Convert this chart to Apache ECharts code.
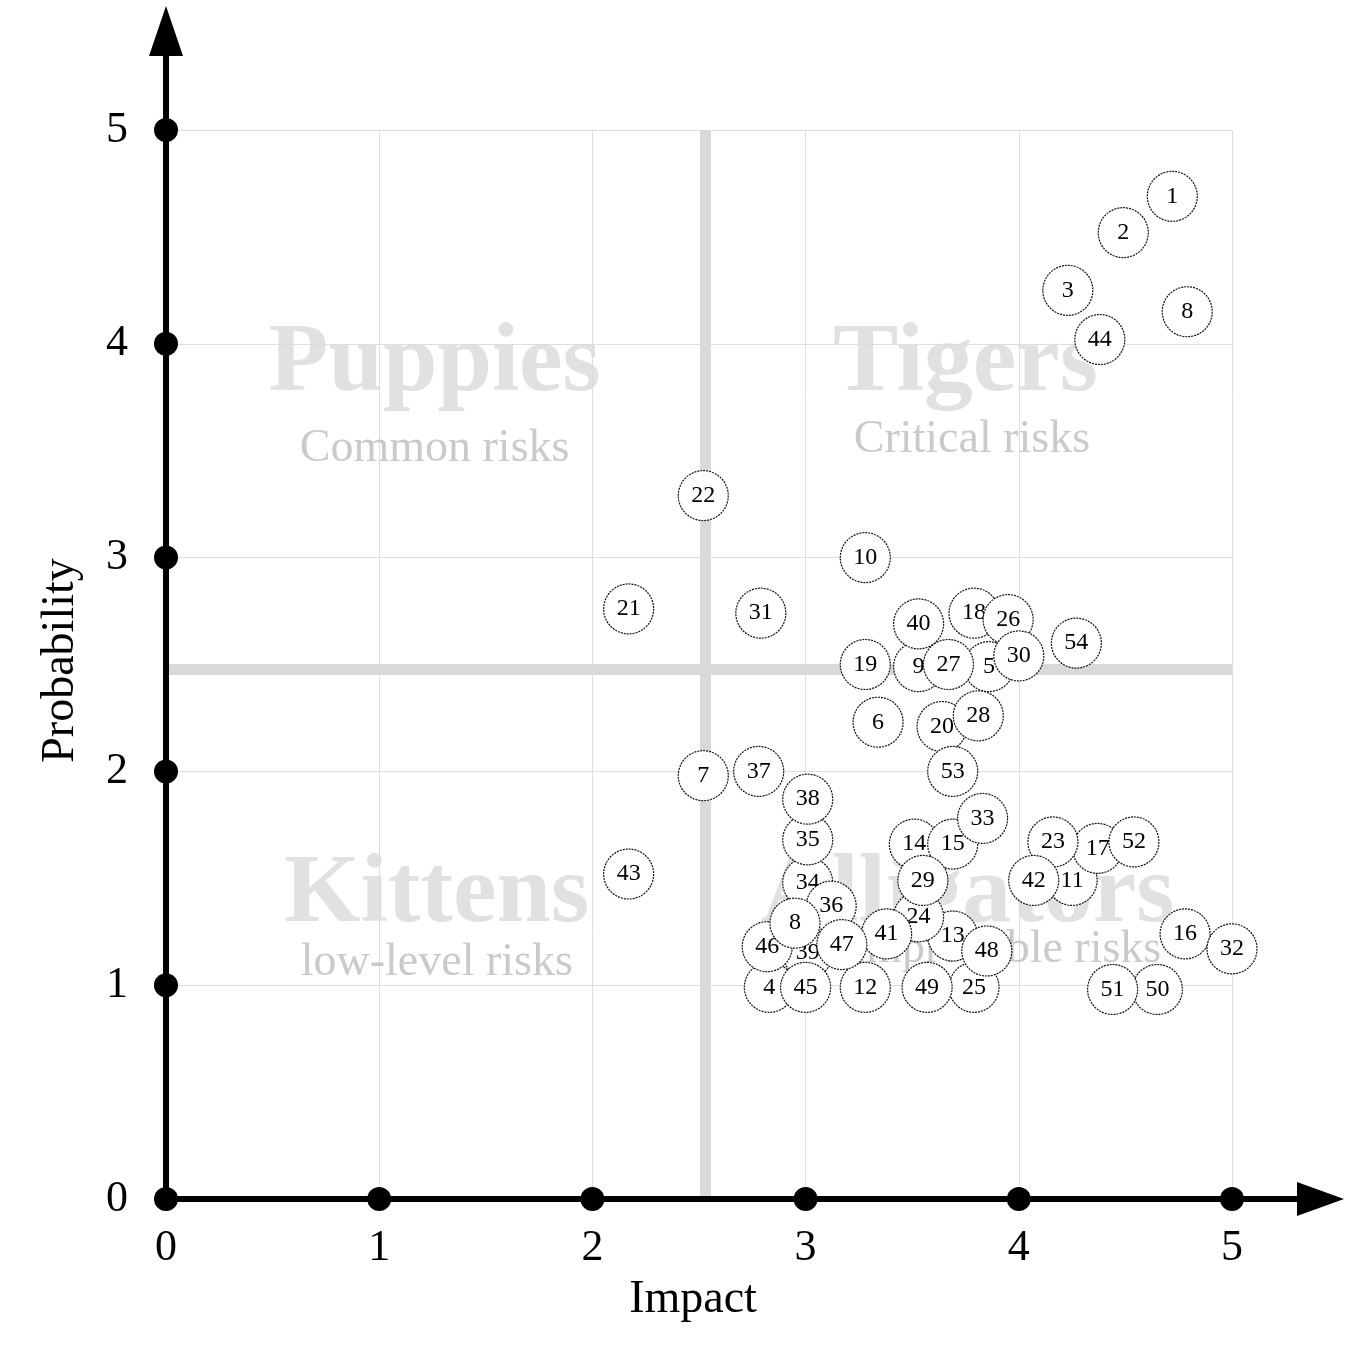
<!DOCTYPE html>
<html>
<head>
<meta charset="utf-8">
<title>Risk matrix</title>
<script src="https://cdn.jsdelivr.net/npm/echarts@6/dist/echarts.min.js"></script>
<style>
  html, body { margin: 0; padding: 0; background: #fff; }
  #chart { width: 1345px; height: 1353px; }
</style>
</head>
<body>
<div id="chart"></div>
<script>
// risk id, impact (x), probability (y) -- the second "8" sits on top of its neighbours, so it goes last
const riskIds = ['1', '2', '3', '4', '5', '6', '7', '8', '9', '10',
  '11', '12', '13', '14', '15', '16', '17', '18', '19', '20',
  '21', '22', '23', '24', '25', '26', '27', '28', '29', '30',
  '31', '32', '33', '34', '35', '36', '37', '38', '39', '40',
  '41', '42', '43', '44', '45', '46', '47', '48', '49', '50',
  '51', '52', '53', '54', '8'];
const impact = [4.72, 4.49, 4.23, 2.83, 3.86, 3.34, 2.52, 4.79, 3.53, 3.28,
  4.25, 3.28, 3.69, 3.51, 3.69, 4.78, 4.37, 3.79, 3.28, 3.64,
  2.17, 2.52, 4.16, 3.53, 3.79, 3.95, 3.67, 3.81, 3.55, 4.00,
  2.79, 5.00, 3.83, 3.01, 3.01, 3.12, 2.78, 3.01, 3.01, 3.53,
  3.38, 4.07, 2.17, 4.38, 3.00, 2.82, 3.17, 3.85, 3.57, 4.65,
  4.44, 4.54, 3.69, 4.27, 2.95];
const probability = [4.69, 4.52, 4.25, 0.99, 2.49, 2.23, 1.98, 4.15, 2.49, 3.00,
  1.49, 0.99, 1.23, 1.66, 1.66, 1.24, 1.64, 2.74, 2.50, 2.21,
  2.76, 3.29, 1.67, 1.32, 0.99, 2.71, 2.50, 2.26, 1.49, 2.54,
  2.74, 1.17, 1.78, 1.48, 1.68, 1.37, 2.00, 1.87, 1.15, 2.69,
  1.24, 1.49, 1.52, 4.02, 0.99, 1.18, 1.19, 1.16, 0.99, 0.98,
  0.98, 1.67, 2.00, 2.60, 1.29];

const axisTicks = [0, 1, 2, 3, 4, 5];
// the two thick quadrant dividers
const impactSplit = 2.53;
const probabilitySplit = 2.48;

const quadrantTitles = ['Puppies', 'Tigers', 'Kittens', 'Alligators'];
const quadrantNotes = ['Common risks', 'Critical risks', 'low-level risks', 'Improbable risks'];

// where the quadrant texts sit, in axis units
const titleAnchors = [[1.26, 3.9], [3.75, 3.9], [1.27, 1.42], [3.76, 1.42]];
const noteAnchors = [[1.26, 3.51], [3.78, 3.55], [1.27, 1.105], [3.94, 1.165]];

const serif = '"Liberation Serif", "Times New Roman", serif';

const chart = echarts.init(document.getElementById('chart'));

const bubbleSeries = riskIds.map(function (id, i) {
  return {
    type: 'scatter',
    z: 10 + i,
    clip: false,
    silent: true,
    symbolSize: 50,
    itemStyle: {
      color: '#fff',
      borderColor: '#111',
      borderWidth: 1.2,
      borderType: [2, 1],
      opacity: 1
    },
    label: {
      show: true,
      position: 'inside',
      formatter: id,
      color: '#000',
      fontFamily: serif,
      fontSize: 24
    },
    data: [[impact[i], probability[i]]]
  };
});

const option = {
  backgroundColor: '#fff',
  animation: false,
  grid: { left: 166, right: 113, top: 130, bottom: 154, outerBoundsMode: 'none' },
  xAxis: {
    type: 'value',
    min: 0,
    max: 5,
    interval: 1,
    name: 'Impact',
    nameLocation: 'middle',
    nameGap: 74,
    nameTextStyle: { fontFamily: serif, fontSize: 46, color: '#000', padding: [4, 12, 0, 0] },
    axisLine: { show: false },
    axisTick: { show: false },
    axisLabel: { margin: 27, fontFamily: serif, fontSize: 44, color: '#000' },
    splitLine: { lineStyle: { color: '#dedede', width: 1 } }
  },
  yAxis: {
    type: 'value',
    min: 0,
    max: 5,
    interval: 1,
    name: 'Probability',
    nameLocation: 'middle',
    nameGap: 82,
    nameTextStyle: { fontFamily: serif, fontSize: 46, color: '#000', padding: [0, 0, 0, 8] },
    axisLine: { show: false },
    axisTick: { show: false },
    axisLabel: { margin: 38, fontFamily: serif, fontSize: 44, color: '#000' },
    splitLine: { lineStyle: { color: '#dedede', width: 1 } }
  },
  series: [
    {
      type: 'line',
      z: 3,
      silent: true,
      data: [],
      markLine: {
        silent: true,
        symbol: ['none', 'none'],
        label: { show: false },
        lineStyle: { color: '#d9d9d9', width: 11, type: 'solid' },
        data: [{ xAxis: impactSplit }, { yAxis: probabilitySplit }]
      }
    },
    {
      type: 'scatter',
      z: 5,
      silent: true,
      clip: false,
      symbolSize: 1,
      itemStyle: { color: 'rgba(0,0,0,0)' },
      label: {
        show: true,
        position: 'inside',
        formatter: '{b}',
        fontFamily: serif,
        fontWeight: 'bold',
        fontSize: 98,
        color: '#d9d9d9'
      },
      data: quadrantTitles.map(function (t, i) {
        return { name: t, value: titleAnchors[i] };
      })
    },
    {
      type: 'scatter',
      z: 5,
      silent: true,
      clip: false,
      symbolSize: 1,
      itemStyle: { color: 'rgba(0,0,0,0)' },
      label: {
        show: true,
        position: 'inside',
        formatter: '{b}',
        fontFamily: serif,
        fontSize: 46,
        color: '#bdbdbd'
      },
      data: quadrantNotes.map(function (t, i) {
        return { name: t, value: noteAnchors[i] };
      })
    }
  ].concat(bubbleSeries).concat([
    {
      type: 'scatter',
      z: 90,
      silent: true,
      clip: false,
      symbolSize: 24,
      itemStyle: { color: '#000', opacity: 1 },
      data: axisTicks.map(function (t) { return [t, 0]; })
        .concat(axisTicks.slice(1).map(function (t) { return [0, t]; }))
    }
  ])
};

chart.setOption(option);

// axis lines with arrow heads, placed from the axis scales
function drawAxes() {
  const origin = chart.convertToPixel({ gridIndex: 0 }, [0, 0]);
  const xEnd = chart.convertToPixel({ gridIndex: 0 }, [5, 0]);
  const yEnd = chart.convertToPixel({ gridIndex: 0 }, [0, 5]);
  const xTip = xEnd[0] + 112;
  const yTip = yEnd[1] - 124;
  chart.setOption({
    graphic: [
      {
        type: 'line', z: 100, silent: true,
        shape: { x1: origin[0], y1: origin[1], x2: xTip - 46, y2: origin[1] },
        style: { stroke: '#000', lineWidth: 6 }
      },
      {
        type: 'polygon', z: 100, silent: true,
        shape: { points: [[xTip, origin[1]], [xTip - 47, origin[1] - 17], [xTip - 47, origin[1] + 17]] },
        style: { fill: '#000' }
      },
      {
        type: 'line', z: 100, silent: true,
        shape: { x1: origin[0], y1: origin[1], x2: origin[0], y2: yTip + 48 },
        style: { stroke: '#000', lineWidth: 6 }
      },
      {
        type: 'polygon', z: 100, silent: true,
        shape: { points: [[origin[0], yTip], [origin[0] - 17, yTip + 50], [origin[0] + 17, yTip + 50]] },
        style: { fill: '#000' }
      }
    ]
  });
}
drawAxes();

window.addEventListener('resize', function () {
  chart.resize();
  drawAxes();
});
</script>
</body>
</html>
